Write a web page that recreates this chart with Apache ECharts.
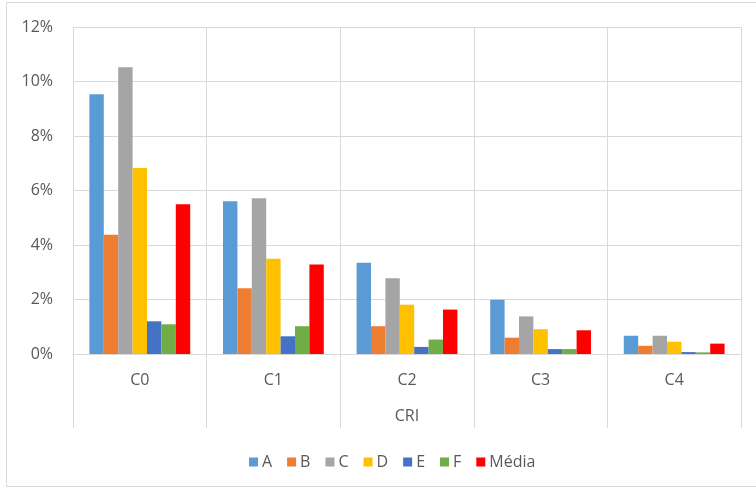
<!DOCTYPE html>
<html>
<head>
<meta charset="utf-8">
<script src="https://cdn.jsdelivr.net/npm/echarts@6/dist/echarts.min.js"></script>
<style>
  html, body { margin: 0; padding: 0; background: #fff; }
  #chart { width: 756px; height: 488px; }
</style>
</head>
<body>
<div id="chart"></div>
<script>
// CRI classes on the category axis
const categories = ['C0', 'C1', 'C2', 'C3', 'C4'];

// Percentages per series, one value per CRI class
const seriesA = [9.53, 5.61, 3.35, 1.99, 0.67];
const seriesB = [4.38, 2.41, 1.02, 0.60, 0.30];
const seriesC = [10.52, 5.72, 2.78, 1.38, 0.67];
const seriesD = [6.83, 3.50, 1.81, 0.91, 0.45];
const seriesE = [1.20, 0.65, 0.26, 0.18, 0.07];
const seriesF = [1.09, 1.02, 0.53, 0.18, 0.06];
const seriesMedia = [5.50, 3.28, 1.63, 0.87, 0.38];

const seriesNames = ['A', 'B', 'C', 'D', 'E', 'F', 'Média'];
const seriesValues = [seriesA, seriesB, seriesC, seriesD, seriesE, seriesF, seriesMedia];
const seriesColors = ['#5B9BD5', '#ED7D31', '#A5A5A5', '#FFC000', '#4472C4', '#70AD47', '#FF0000'];

// Value axis ticks
const yTicks = { min: 0, max: 12, interval: 2 };

const FONT = '"Open Sans", "DejaVu Sans", sans-serif';
const TEXT = '#595959';
const GRID = '#d9d9d9';

const chart = echarts.init(document.getElementById('chart'), null, { renderer: 'canvas' });

chart.setOption({
  animation: false,
  backgroundColor: '#ffffff',
  textStyle: { fontFamily: FONT, color: TEXT },
  graphic: [{
    type: 'rect',
    silent: true,
    shape: { x: 6.5, y: 2.5, width: 760, height: 484 },
    style: { fill: 'none', stroke: GRID, lineWidth: 1 }
  }],
  grid: { left: 73, right: 15, top: 27, bottom: 134, containLabel: false },
  legend: {
    left: 244,
    top: 449,
    itemWidth: 9,
    itemHeight: 9,
    itemGap: 15,
    icon: 'rect',
    textStyle: { fontFamily: FONT, fontSize: 16, color: TEXT, padding: [0, 0, 0, -1] },
    data: seriesNames
  },
  xAxis: {
    type: 'category',
    data: categories,
    boundaryGap: true,
    name: 'CRI',
    nameLocation: 'middle',
    nameGap: 54,
    nameTextStyle: { fontFamily: FONT, fontSize: 16, color: TEXT },
    axisLine: { show: true, lineStyle: { color: GRID, width: 1 } },
    axisTick: { show: true, interval: 0, length: 74, lineStyle: { color: GRID, width: 1 } },
    axisLabel: { margin: 18, fontFamily: FONT, fontSize: 16, color: TEXT },
    splitLine: { show: true, interval: 0, lineStyle: { color: GRID, width: 1 } }
  },
  yAxis: {
    type: 'value',
    min: yTicks.min,
    max: yTicks.max,
    interval: yTicks.interval,
    axisLine: { show: false },
    axisTick: { show: false },
    axisLabel: { margin: 20, fontFamily: FONT, fontSize: 16, color: TEXT, formatter: '{value}%' },
    splitLine: { show: true, lineStyle: { color: GRID, width: 1 } }
  },
  series: seriesNames.map((name, i) => ({
    name: name,
    type: 'bar',
    data: seriesValues[i],
    barWidth: 14.4,
    barGap: '0%',
    itemStyle: { color: seriesColors[i] }
  }))
});
</script>
</body>
</html>
